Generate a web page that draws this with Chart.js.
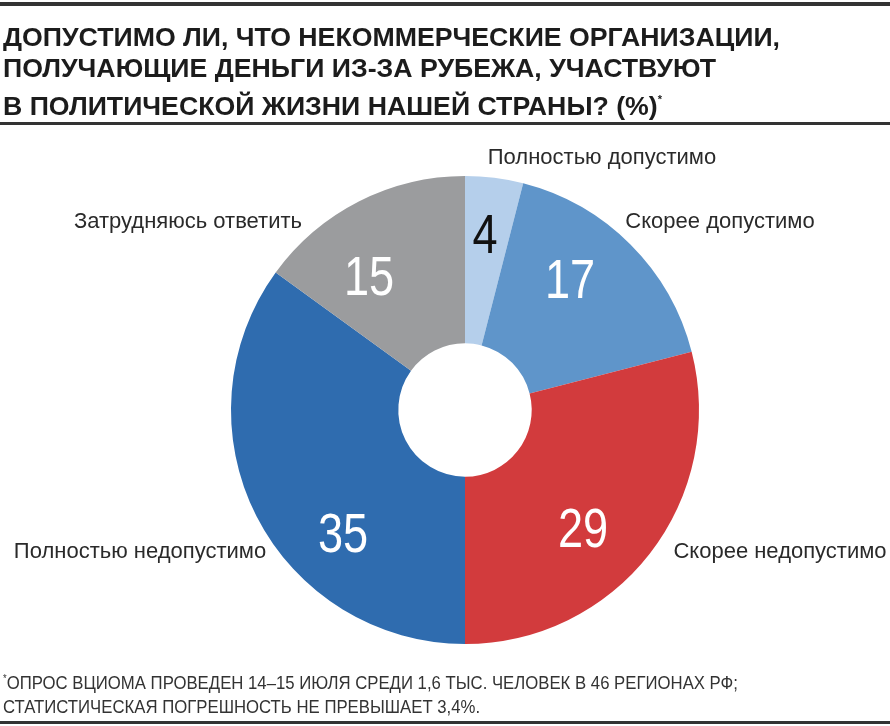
<!DOCTYPE html>
<html>
<head>
<meta charset="utf-8">
<script src="https://cdn.jsdelivr.net/npm/chart.js@4"></script>
<style>
  html, body { margin: 0; padding: 0; background: #fff; }
  #wrap { position: relative; width: 890px; height: 726px; overflow: hidden; }
  #c { position: absolute; left: 0; top: 0; }
  .rule { position: absolute; left: 0; width: 890px; background: #333; }
  #title {
    position: absolute; left: 3px; top: 22px; margin: 0; white-space: nowrap;
    font-family: "Liberation Sans", Arial, sans-serif;
    font-weight: bold; font-size: 26.7px; line-height: 31px; color: #1c1c1c;
  }
  #title sup { font-size: 11px; vertical-align: 12px; }
  #note {
    position: absolute; left: 3px; top: 667px; margin: 0; white-space: nowrap;
    font-family: "Liberation Sans", Arial, sans-serif;
    font-size: 18px; line-height: 24px; color: #333;
    transform: scaleX(0.93); transform-origin: 0 0;
  }
  #note sup { font-size: 10px; vertical-align: 7px; }
</style>
</head>
<body>
<div id="wrap">
  <canvas id="c" width="890" height="726"></canvas>
  <div class="rule" style="top:2px;height:4px"></div>
  <h1 id="title">ДОПУСТИМО ЛИ, ЧТО НЕКОММЕРЧЕСКИЕ ОРГАНИЗАЦИИ,<br>ПОЛУЧАЮЩИЕ ДЕНЬГИ ИЗ-ЗА РУБЕЖА, УЧАСТВУЮТ<br>В ПОЛИТИЧЕСКОЙ ЖИЗНИ НАШЕЙ СТРАНЫ? (%)<sup>*</sup></h1>
  <div class="rule" style="top:122px;height:3px"></div>
  <p id="note"><sup>*</sup>ОПРОС ВЦИОМА ПРОВЕДЕН 14–15 ИЮЛЯ СРЕДИ 1,6 ТЫС. ЧЕЛОВЕК В 46 РЕГИОНАХ РФ;<br>СТАТИСТИЧЕСКАЯ ПОГРЕШНОСТЬ НЕ ПРЕВЫШАЕТ 3,4%.</p>
  <div class="rule" style="top:721px;height:3px"></div>
</div>
<script>
// --- данные ---
const categories = ["Полностью допустимо", "Скорее допустимо", "Скорее недопустимо", "Полностью недопустимо", "Затрудняюсь ответить"];
const values = [4, 17, 29, 35, 15];
const colors = ["#b5cfeb", "#5f95ca", "#d23b3d", "#2f6caf", "#9b9c9e"];
const numColors = ["#111", "#fff", "#fff", "#fff", "#fff"];

// --- раскладка подписей (смещения от центра круга) ---
const numOffsets = [[20, -172], [105, -127], [118, 122], [-122, 127], [-96, -130]];
const labelOffsets = [[137, -252], [255, -188], [315, 142], [-325, 142], [-277, -188]];

const FONT = '"Liberation Sans", Arial, sans-serif';

const labelsPlugin = {
  id: "sliceLabels",
  afterDatasetsDraw(chart) {
    const ctx = chart.ctx;
    const arc0 = chart.getDatasetMeta(0).data[0];
    const cx = arc0.x, cy = arc0.y;
    ctx.save();
    ctx.textAlign = "center";
    ctx.textBaseline = "middle";
    values.forEach((v, i) => {
      // большие цифры — узкие
      ctx.save();
      ctx.translate(cx + numOffsets[i][0], cy + numOffsets[i][1]);
      ctx.scale(0.82, 1);
      ctx.font = "55px " + FONT;
      ctx.fillStyle = numColors[i];
      ctx.fillText(String(v), 0, 0);
      ctx.restore();

      ctx.font = "22px " + FONT;
      ctx.fillStyle = "#2a2a2a";
      ctx.fillText(categories[i], cx + labelOffsets[i][0], cy + labelOffsets[i][1]);
    });
    ctx.restore();
  }
};

new Chart(document.getElementById("c"), {
  type: "doughnut",
  data: {
    labels: categories,
    datasets: [{
      data: values,
      backgroundColor: colors,
      borderWidth: 0
    }]
  },
  options: {
    responsive: false,
    animation: false,
    cutout: "28.5%",
    layout: { padding: { left: 231, top: 176, right: 191, bottom: 82 } },
    plugins: { legend: { display: false }, tooltip: { enabled: false } }
  },
  plugins: [labelsPlugin]
});
</script>
</body>
</html>
